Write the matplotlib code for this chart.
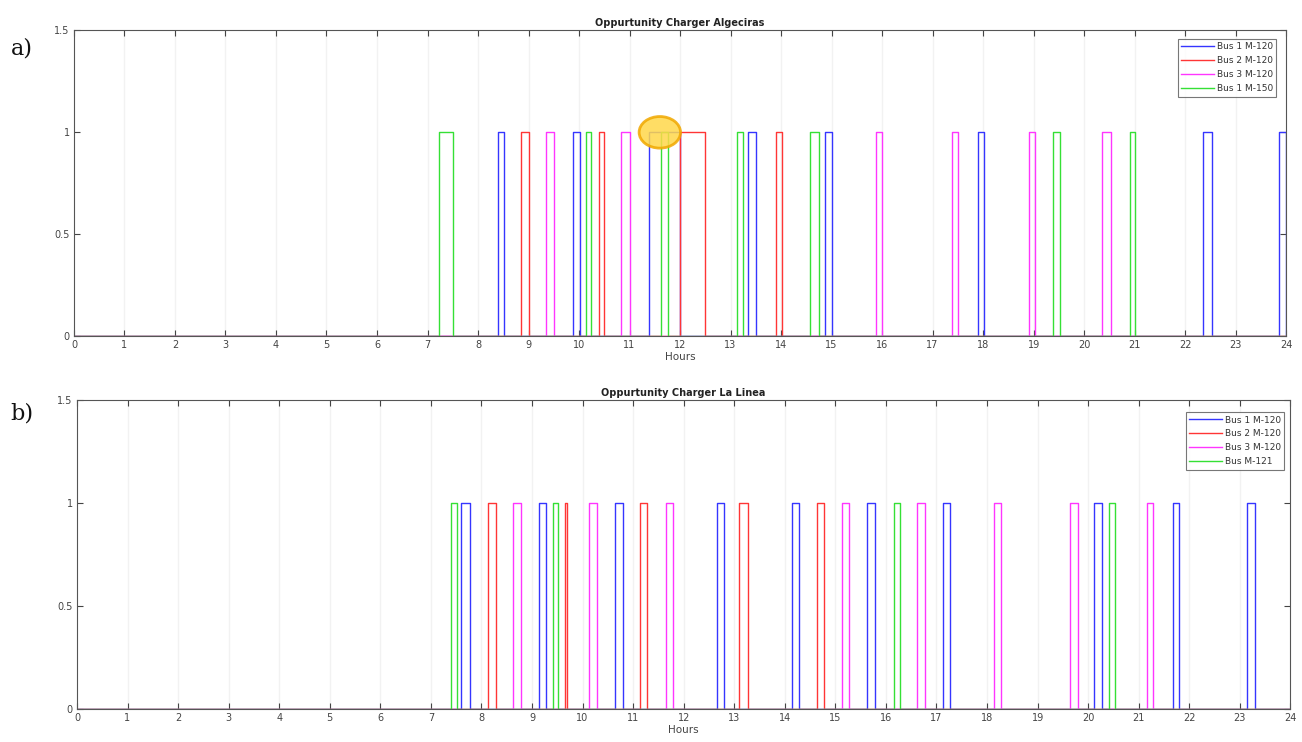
import matplotlib
matplotlib.use("Agg")
import matplotlib.pyplot as plt
from matplotlib.patches import Ellipse
import numpy as np

# ---------------- data: charging intervals (start hour, end hour) ----------------
titles = ["Oppurtunity Charger Algeciras", "Oppurtunity Charger La Linea"]
panel_labels = ["a)", "b)"]
hours_ticks = list(range(0, 25))
y_ticks = [0, 0.5, 1, 1.5]
y_tick_labels = ["0", "0.5", "1", "1.5"]

names_a = ["Bus 1 M-120", "Bus 2 M-120", "Bus 3 M-120", "Bus 1 M-150"]
bus1_a = [(8.40, 8.52), (9.88, 10.01), (11.38, 11.99), (13.35, 13.50), (14.88, 15.01),
          (17.90, 18.01), (22.35, 22.53), (23.85, 24.0)]
bus2_a = [(8.85, 9.00), (10.40, 10.50), (11.99, 12.50), (13.90, 14.01)]
bus3_a = [(9.35, 9.51), (10.84, 11.00), (15.88, 16.00), (17.39, 17.50), (18.90, 19.02),
          (20.35, 20.53)]
bus4_a = [(7.23, 7.50), (10.14, 10.24), (11.62, 11.76), (13.12, 13.25), (14.57, 14.75),
          (19.39, 19.52), (20.91, 21.01)]

names_b = ["Bus 1 M-120", "Bus 2 M-120", "Bus 3 M-120", "Bus M-121"]
bus1_b = [(7.60, 7.77), (9.13, 9.28), (10.64, 10.79), (12.65, 12.79), (14.14, 14.28),
          (15.62, 15.79), (17.13, 17.27), (20.12, 20.27), (21.67, 21.80), (23.14, 23.29)]
bus2_b = [(8.12, 8.29), (9.65, 9.69), (11.14, 11.28), (13.10, 13.28), (14.63, 14.78)]
bus3_b = [(8.63, 8.78), (10.13, 10.29), (11.65, 11.78), (15.13, 15.27), (16.62, 16.78),
          (18.13, 18.28), (19.64, 19.80), (21.16, 21.29)]
bus4_b = [(7.39, 7.52), (9.41, 9.52), (16.16, 16.28), (20.42, 20.53)]

colors = ["#3535ff", "#ff3535", "#ff35ff", "#35e035"]


def step_signal(intervals):
    xs, ys = [0.0], [0.0]
    for s, e in intervals:
        xs += [s, s, e, e]
        ys += [0, 1, 1, 0]
    if xs[-1] < 24:
        xs.append(24.0)
        ys.append(0.0)
    return xs, ys


fig = plt.figure(figsize=(13.02, 7.42), dpi=100)
fig.patch.set_facecolor("white")

axes_pos = [[0.0568, 0.547, 0.931, 0.412], [0.0591, 0.0445, 0.932, 0.416]]
series = [[bus1_a, bus2_a, bus3_a, bus4_a], [bus1_b, bus2_b, bus3_b, bus4_b]]
names = [names_a, names_b]
label_y = [0.935, 0.443]
leg_anchor = [(0.992, 0.971), (0.995, 0.961)]

for i in range(2):
    ax = fig.add_axes(axes_pos[i])
    for h in hours_ticks[1:-1]:
        ax.axvline(h, color="#f2f2f2", lw=1.0, zorder=0)
    for data, c, n in zip(series[i], colors, names[i]):
        xs, ys = step_signal(data)
        ax.plot(xs, ys, color=c, lw=1.0, label=n)
    ax.set_xlim(0, 24)
    ax.set_ylim(0, 1.5)
    ax.set_xticks(hours_ticks)
    ax.set_xticklabels([str(h) for h in hours_ticks])
    ax.set_yticks(y_ticks)
    ax.set_yticklabels(y_tick_labels)
    ax.tick_params(direction="in", top=True, right=True, labelsize=7,
                   labelcolor="#444444", color="#444444", length=4, width=0.8, pad=3)
    for sp in ax.spines.values():
        sp.set_color("#555555")
        sp.set_linewidth(0.8)
    ax.set_title(titles[i], fontsize=7, fontweight="bold", color="#222222", pad=3)
    ax.set_xlabel("Hours", fontsize=7.5, color="#444444", labelpad=1)
    leg = ax.legend(loc="upper right", fontsize=6.5, frameon=True, fancybox=False,
                    edgecolor="#555555", borderpad=0.35, labelspacing=0.55,
                    handlelength=3.7, handletextpad=0.3, borderaxespad=0.0,
                    bbox_to_anchor=leg_anchor[i])
    leg.get_frame().set_linewidth(0.8)
    for t in leg.get_texts():
        t.set_color("#333333")
    fig.text(0.008, label_y[i], panel_labels[i], fontsize=16, family="DejaVu Serif",
             color="#111111", va="center")
    if i == 0:
        ell = Ellipse((11.6, 1.0), 0.82, 0.155, facecolor="#ffd84a", edgecolor="#f0a800",
                      lw=2.0, alpha=0.85, zorder=5)
        ax.add_patch(ell)

fig.savefig("out.png", dpi=100, facecolor="white")
